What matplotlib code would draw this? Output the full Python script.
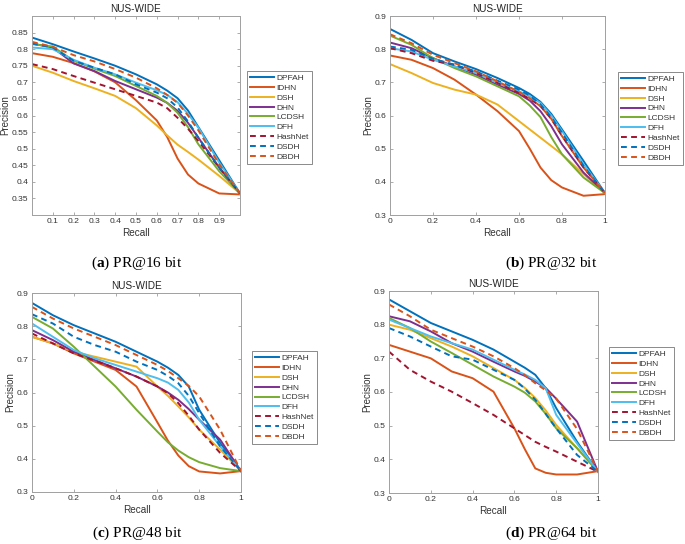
import matplotlib
matplotlib.use("Agg")
import matplotlib.pyplot as plt

plt.rcParams['font.family'] = ['Liberation Sans', 'DejaVu Sans']
plt.rcParams['mathtext.fontset'] = 'custom'
plt.rcParams['mathtext.rm'] = 'Liberation Serif'
plt.rcParams['mathtext.bf'] = 'Liberation Serif:bold'

# recall points shared by every curve
recall = [0, 0.1, 0.2, 0.3, 0.4, 0.5, 0.6, 0.65, 0.7, 0.75, 0.8, 0.9, 1.0]

methods = ['DPFAH', 'IDHN', 'DSH', 'DHN', 'LCDSH', 'DFH', 'HashNet', 'DSDH', 'DBDH']
colors = ['#0072BD', '#D95319', '#EDB120', '#7E2F8E', '#77AC30', '#4DBEEE',
          '#A2142F', '#0072BD', '#D95319']
styles = ['-', '-', '-', '-', '-', '-', '--', '--', '--']

# PR@16 bit
pr16_DPFAH = [.835, .815, .793, .772, .750, .724, .694, .675, .652, .615, .565, .465, .365]
pr16_IDHN = [.788, .777, .758, .733, .700, .646, .585, .535, .470, .422, .395, .365, .362]
pr16_DSH = [.750, .729, .704, .682, .659, .622, .570, .540, .512, .490, .467, .418, .365]
pr16_DHN = [.817, .805, .757, .734, .704, .679, .654, .638, .614, .578, .533, .443, .365]
pr16_LCDSH = [.815, .808, .765, .741, .719, .689, .659, .638, .608, .565, .513, .432, .365]
pr16_DFH = [.805, .800, .768, .744, .724, .699, .676, .662, .640, .605, .563, .458, .365]
pr16_HashNet = [.755, .740, .719, .699, .679, .659, .639, .622, .593, .560, .523, .443, .365]
pr16_DSDH = [.817, .805, .765, .744, .724, .694, .669, .652, .624, .582, .533, .443, .365]
pr16_DBDH = [.822, .807, .782, .763, .740, .714, .682, .662, .638, .600, .555, .453, .365]

# PR@32 bit
pr32_DPFAH = [.861, .828, .788, .763, .740, .713, .683, .665, .641, .605, .558, .463, .366]
pr32_IDHN = [.781, .768, .743, .708, .663, .613, .553, .500, .443, .405, .383, .358, .363]
pr32_DSH = [.755, .728, .698, .678, .663, .633, .583, .558, .533, .508, .483, .423, .366]
pr32_DHN = [.820, .803, .773, .748, .723, .693, .665, .645, .613, .568, .513, .428, .366]
pr32_LCDSH = [.841, .813, .773, .743, .718, .688, .658, .630, .595, .535, .483, .413, .366]
pr32_DFH = [.803, .793, .768, .748, .728, .698, .673, .658, .638, .600, .553, .453, .366]
pr32_HashNet = [.803, .788, .765, .753, .728, .698, .668, .650, .628, .590, .538, .443, .366]
pr32_DSDH = [.808, .798, .771, .753, .733, .705, .678, .660, .633, .595, .548, .448, .366]
pr32_DBDH = [.845, .818, .783, .758, .733, .703, .671, .652, .628, .590, .538, .443, .366]

# PR@48 bit
pr48_DPFAH = [.870, .833, .803, .778, .753, .723, .693, .675, .653, .618, .548, .448, .363]
pr48_IDHN = [.768, .748, .718, .693, .668, .618, .510, .455, .410, .378, .362, .356, .363]
pr48_DSH = [.768, .748, .723, .708, .693, .678, .618, .590, .558, .525, .488, .428, .363]
pr48_DHN = [.788, .758, .723, .698, .673, .648, .618, .600, .578, .550, .518, .458, .363]
pr48_LCDSH = [.828, .793, .738, .678, .618, .548, .482, .450, .425, .405, .390, .372, .363]
pr48_DFH = [.808, .768, .728, .703, .683, .663, .643, .630, .608, .570, .518, .438, .363]
pr48_HashNet = [.778, .748, .718, .696, .673, .648, .618, .598, .568, .530, .488, .418, .363]
pr48_DSDH = [.836, .808, .768, .743, .723, .693, .668, .650, .628, .590, .538, .438, .363]
pr48_DBDH = [.858, .823, .793, .768, .743, .713, .683, .665, .643, .620, .588, .488, .363]

# PR@64 bit
pr64_DPFAH = [.875, .840, .805, .780, .755, .726, .690, .672, .651, .611, .552, .452, .363]
pr64_IDHN = [.740, .720, .700, .661, .641, .601, .492, .430, .373, .360, .355, .355, .365]
pr64_DSH = [.800, .785, .760, .735, .706, .671, .636, .612, .582, .545, .502, .433, .363]
pr64_DHN = [.825, .810, .780, .745, .720, .690, .661, .648, .631, .612, .580, .512, .363]
pr64_LCDSH = [.820, .790, .750, .716, .681, .646, .616, .598, .572, .535, .492, .433, .363]
pr64_DFH = [.815, .790, .765, .745, .726, .696, .666, .652, .636, .611, .532, .447, .363]
pr64_HashNet = [.720, .666, .631, .601, .567, .532, .492, .472, .452, .437, .423, .393, .363]
pr64_DSDH = [.790, .765, .735, .706, .696, .666, .636, .610, .577, .535, .492, .413, .363]
pr64_DBDH = [.860, .825, .785, .760, .735, .706, .671, .650, .626, .605, .580, .490, .363]

panels = [
    ([pr16_DPFAH, pr16_IDHN, pr16_DSH, pr16_DHN, pr16_LCDSH, pr16_DFH, pr16_HashNet, pr16_DSDH, pr16_DBDH],
     [0.1, 0.2, 0.3, 0.4, 0.5, 0.6, 0.7, 0.8, 0.9],
     [0.35, 0.4, 0.45, 0.5, 0.55, 0.6, 0.65, 0.7, 0.75, 0.8, 0.85], '(a)', '16'),
    ([pr32_DPFAH, pr32_IDHN, pr32_DSH, pr32_DHN, pr32_LCDSH, pr32_DFH, pr32_HashNet, pr32_DSDH, pr32_DBDH],
     [0, 0.2, 0.4, 0.6, 0.8, 1], [0.3, 0.4, 0.5, 0.6, 0.7, 0.8, 0.9], '(b)', '32'),
    ([pr48_DPFAH, pr48_IDHN, pr48_DSH, pr48_DHN, pr48_LCDSH, pr48_DFH, pr48_HashNet, pr48_DSDH, pr48_DBDH],
     [0, 0.2, 0.4, 0.6, 0.8, 1], [0.3, 0.4, 0.5, 0.6, 0.7, 0.8, 0.9], '(c)', '48'),
    ([pr64_DPFAH, pr64_IDHN, pr64_DSH, pr64_DHN, pr64_LCDSH, pr64_DFH, pr64_HashNet, pr64_DSDH, pr64_DBDH],
     [0, 0.2, 0.4, 0.6, 0.8, 1], [0.3, 0.4, 0.5, 0.6, 0.7, 0.8, 0.9], '(d)', '64'),
]

# axes boxes (left, top, width, height) in pixels of the 685x544 figure
W, H = 685.0, 544.0
boxes = [(32, 16, 208, 199), (390, 16, 215, 199), (32, 293, 209, 199), (389, 291, 209, 202)]
legend_pos = [(247, 71), (618, 72), (252, 351), (609, 347)]
caption_pos = [(137, 263), (551, 263), (137, 533), (551, 533)]

fig = plt.figure(figsize=(6.85, 5.44), dpi=100)

for (series, xt, yt, tag, bits), (x0, y0, w, h), (lx, ly), (cx, cy) in zip(panels, boxes, legend_pos, caption_pos):
    ax = fig.add_axes([x0 / W, 1 - (y0 + h) / H, w / W, h / H])
    for name, vals, c, ls in zip(methods, series, colors, styles):
        ax.plot(recall, vals, color=c, linestyle=ls, lw=1.4, label=name,
                dashes=(3, 2.2) if ls == '--' else (None, None))
    ax.set_xlim(0, 1)
    ax.set_ylim(0.3, 0.9)
    ax.set_xticks(xt)
    ax.set_yticks(yt)
    ax.set_xticklabels(['%g' % v for v in xt])
    ax.set_yticklabels(['%g' % v for v in yt])
    ax.tick_params(direction='in', length=2.2, width=0.5, top=True, right=True,
                   labelsize=6.1, colors='#8a8a8a', labelcolor='#333333', pad=2.5)
    for s in ax.spines.values():
        s.set_color('#a0a0a0')
        s.set_linewidth(0.7)
    ax.set_title('NUS-WIDE', fontsize=7.2, color='#222222', pad=3)
    ax.set_xlabel('Recall', fontsize=7.2, color='#333333', labelpad=2)
    ax.set_ylabel('Precision', fontsize=7.0, color='#333333', labelpad=1)
    leg = ax.legend(loc='upper left', bbox_to_anchor=(lx / W, 1 - ly / H),
                    bbox_transform=fig.transFigure, fontsize=6.0, frameon=True,
                    fancybox=False, handlelength=2.9, handletextpad=0.3,
                    labelspacing=0.25, borderpad=0.35, borderaxespad=0)
    leg.get_frame().set_edgecolor('#555555')
    leg.get_frame().set_linewidth(0.6)
    for t in leg.get_texts():
        t.set_color('#333333')
    fig.text(cx / W, 1 - cy / H, r'($\mathbf{%s}$) PR@%s bit' % (tag[1], bits),
             fontsize=11, family='Liberation Serif', ha='center', va='center')

fig.savefig('out.png', dpi=100)
